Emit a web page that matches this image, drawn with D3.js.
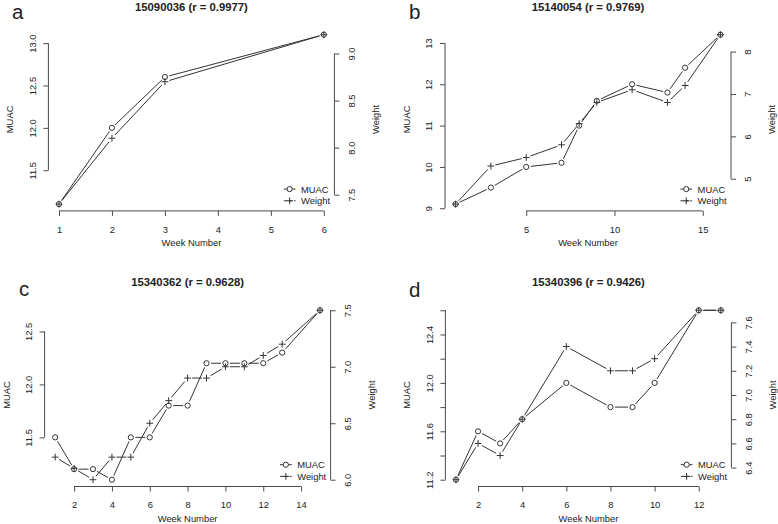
<!DOCTYPE html>
<html><head><meta charset="utf-8">
<script src="https://cdn.jsdelivr.net/npm/d3@7"></script>
<style>
html,body{margin:0;padding:0;background:#fff;}
svg{display:block;font-family:"Liberation Sans",Arial,Helvetica,sans-serif;}
</style></head>
<body><svg id="chart" width="778" height="524"></svg>
<script>
// ---- data ----
const panelLetters = ["a", "b", "c", "d"];
const panelTitles = ["15090036 (r = 0.9977)", "15140054 (r = 0.9769)", "15340362 (r = 0.9628)", "15340396 (r = 0.9426)"];
const seriesNames = ["MUAC", "Weight"];

const weeksA = [1, 2, 3, 6];
const muacA = [11.1, 12.0, 12.6, 13.1];
const weightA = [7.4, 8.1, 8.7, 9.2];

const weeksB = [1, 3, 5, 7, 8, 9, 11, 13, 14, 16];
const muacB = [9.1, 9.5, 10.0, 10.1, 11.0, 11.6, 12.0, 11.8, 12.4, 13.2];
const weightB = [4.4, 5.3, 5.5, 5.8, 6.3, 6.8, 7.1, 6.8, 7.2, 8.4];

const weeksC = [1, 2, 3, 4, 5, 6, 7, 8, 9, 10, 11, 12, 13, 15];
const muacC = [11.5, 11.2, 11.2, 11.1, 11.5, 11.5, 11.8, 11.8, 12.2, 12.2, 12.2, 12.2, 12.3, 12.7];
const weightC = [6.2, 6.1, 6.0, 6.2, 6.2, 6.5, 6.7, 6.9, 6.9, 7.0, 7.0, 7.1, 7.2, 7.5];

const weeksD = [1, 2, 3, 4, 6, 8, 9, 10, 12, 13];
const muacD = [11.2, 11.6, 11.5, 11.7, 12.0, 11.8, 11.8, 12.0, 12.6, 12.6];
const weightD = [6.3, 6.6, 6.5, 6.8, 7.4, 7.2, 7.2, 7.3, 7.7, 7.7];

// ---- tick values and labels ----
const xTicksA = [1, 2, 3, 4, 5, 6];
const muacTicksA = [11.5, 12.0, 12.5, 13.0];
const muacLabelsA = ["11.5", "12.0", "12.5", "13.0"];
const weightTicksA = [7.5, 8.0, 8.5, 9.0];
const weightLabelsA = ["7.5", "8.0", "8.5", "9.0"];

const xTicksB = [5, 10, 15];
const muacTicksB = [9, 10, 11, 12, 13];
const muacLabelsB = ["9", "10", "11", "12", "13"];
const weightTicksB = [5, 6, 7, 8];
const weightLabelsB = ["5", "6", "7", "8"];

const xTicksC = [2, 4, 6, 8, 10, 12, 14];
const muacTicksC = [11.5, 12.0, 12.5];
const muacLabelsC = ["11.5", "12.0", "12.5"];
const weightTicksC = [6.0, 6.5, 7.0, 7.5];
const weightLabelsC = ["6.0", "6.5", "7.0", "7.5"];

const xTicksD = [2, 4, 6, 8, 10, 12];
const muacTicksD = [11.2, 11.4, 11.6, 11.8, 12.0, 12.2, 12.4, 12.6];
const muacLabelsD = ["11.2", "", "11.6", "", "12.0", "", "12.4", ""];
const weightTicksD = [6.4, 6.6, 6.8, 7.0, 7.2, 7.4, 7.6];
const weightLabelsD = ["6.4", "6.6", "6.8", "7.0", "7.2", "7.4", "7.6"];

// ---- layout ----
const PW = 286, PH = 183;
const panels = [
  {weeks: weeksA, muac: muacA, weight: weightA, xt: xTicksA, mt: muacTicksA, ml: muacLabelsA, wt: weightTicksA, wl: weightLabelsA, left: 48.4, top: 27.9, lx: 12, ly: 19},
  {weeks: weeksB, muac: muacB, weight: weightB, xt: xTicksB, mt: muacTicksB, ml: muacLabelsB, wt: weightTicksB, wl: weightLabelsB, left: 445, top: 27.9, lx: 409, ly: 19},
  {weeks: weeksC, muac: muacC, weight: weightC, xt: xTicksC, mt: muacTicksC, ml: muacLabelsC, wt: weightTicksC, wl: weightLabelsC, left: 44.6, top: 303.5, lx: 19, ly: 296},
  {weeks: weeksD, muac: muacD, weight: weightD, xt: xTicksD, mt: muacTicksD, ml: muacLabelsD, wt: weightTicksD, wl: weightLabelsD, left: 445.4, top: 303.5, lx: 409, ly: 297}
];

const FS = 9.4;
const LINE = "#333", AXIS = "#4a4a4a", TEXT = "#222";
const GAP = 4.5, CR = 2.6, PL = 3.4;

const svg = d3.select("#chart");
svg.append("rect").attr("width", 778).attr("height", 524).attr("fill", "#fff");

function ext(arr) {
  const [a, b] = d3.extent(arr);
  const e = (b - a) * 0.04;
  return [a - e, b + e];
}

function plusPath(x, y) {
  return `M${x - PL},${y}H${x + PL}M${x},${y - PL}V${y + PL}`;
}

panels.forEach((p, i) => {
  const g = svg.append("g").attr("transform", `translate(${p.left},${p.top})`);
  const x = d3.scaleLinear().domain(ext(p.weeks)).range([0, PW]);
  const yM = d3.scaleLinear().domain(ext(p.muac)).range([PH, 0]);
  const yW = d3.scaleLinear().domain(ext(p.weight)).range([PH, 0]);

  // letter + title
  svg.append("text").attr("x", p.lx).attr("y", p.ly).attr("font-size", 20.5).attr("fill", TEXT).text(panelLetters[i]);
  g.append("text").attr("x", PW / 2).attr("y", -17.2).attr("text-anchor", "middle")
    .attr("font-size", 11.3).attr("font-weight", "bold").attr("fill", TEXT).text(panelTitles[i]);

  // bottom axis
  const xa = g.append("g").attr("transform", `translate(0,${PH})`)
    .call(d3.axisBottom(x).tickValues(p.xt).tickSize(5).tickPadding(10.3).tickFormat(d3.format("d")));
  xa.select(".domain").attr("d", `M${x(p.xt[0])},0H${x(p.xt[p.xt.length - 1])}`);

  // left axis
  const la = g.append("g")
    .call(d3.axisLeft(yM).tickValues(p.mt).tickSize(5).tickFormat((d, k) => p.ml[k]));
  la.select(".domain").attr("d", `M0,${yM(p.mt[0])}V${yM(p.mt[p.mt.length - 1])}`);
  la.selectAll(".tick text").attr("x", null).attr("dy", null).attr("text-anchor", "middle")
    .attr("transform", "translate(-12.7,0) rotate(-90)");

  // right axis
  const ra = g.append("g").attr("transform", `translate(${PW},0)`)
    .call(d3.axisRight(yW).tickValues(p.wt).tickSize(5).tickFormat((d, k) => p.wl[k]));
  ra.select(".domain").attr("d", `M0,${yW(p.wt[0])}V${yW(p.wt[p.wt.length - 1])}`);
  ra.selectAll(".tick text").attr("x", null).attr("dy", null).attr("text-anchor", "middle")
    .attr("transform", "translate(20.3,0) rotate(-90)");

  [xa, la, ra].forEach(a => {
    a.attr("font-size", FS).attr("font-family", null);
    a.selectAll(".domain, .tick line").attr("stroke", AXIS);
    a.selectAll(".tick text").attr("fill", TEXT);
  });

  // axis titles
  g.append("text").attr("x", PW / 2).attr("y", PH + 35).attr("text-anchor", "middle")
    .attr("font-size", FS).attr("fill", TEXT).text("Week Number");
  g.append("text").attr("transform", `translate(-35,${PH / 2}) rotate(-90)`).attr("text-anchor", "middle")
    .attr("font-size", FS).attr("fill", TEXT).text("MUAC");
  g.append("text").attr("transform", `translate(${PW + 44.3},${PH / 2}) rotate(-90)`).attr("text-anchor", "middle")
    .attr("font-size", FS).attr("fill", TEXT).text("Weight");

  // series: type "b" (lines with gaps around points)
  function drawSeries(vals, yScale, shape) {
    const pts = p.weeks.map((w, k) => [x(w), yScale(vals[k])]);
    const segs = [];
    for (let k = 0; k < pts.length - 1; k++) {
      const [x0, y0] = pts[k], [x1, y1] = pts[k + 1];
      const dx = x1 - x0, dy = y1 - y0, d = Math.hypot(dx, dy);
      if (d > 2 * GAP) {
        const ux = dx / d, uy = dy / d;
        segs.push([x0 + ux * GAP, y0 + uy * GAP, x1 - ux * GAP, y1 - uy * GAP]);
      }
    }
    g.append("g").selectAll("line").data(segs).join("line")
      .attr("x1", s => s[0]).attr("y1", s => s[1]).attr("x2", s => s[2]).attr("y2", s => s[3])
      .attr("stroke", LINE).attr("stroke-width", 1);
    if (shape === "circle") {
      g.append("g").selectAll("circle").data(pts).join("circle")
        .attr("cx", d => d[0]).attr("cy", d => d[1]).attr("r", CR)
        .attr("fill", "none").attr("stroke", LINE).attr("stroke-width", 1);
    } else {
      g.append("g").selectAll("path").data(pts).join("path")
        .attr("d", d => plusPath(d[0], d[1]))
        .attr("fill", "none").attr("stroke", LINE).attr("stroke-width", 1);
    }
  }
  drawSeries(p.muac, yM, "circle");
  drawSeries(p.weight, yW, "plus");

  // legend (bottom right)
  const lg = g.append("g").attr("transform", `translate(${PW},${PH})`);
  seriesNames.forEach((name, k) => {
    const cy = k === 0 ? -21.8 : -10.1;
    const x0 = -50.6, x1 = -38.9, xm = (x0 + x1) / 2;
    lg.append("line").attr("x1", x0).attr("x2", x1).attr("y1", cy).attr("y2", cy)
      .attr("stroke", LINE).attr("stroke-width", 1)
      .attr("stroke-dasharray", k === 0 ? null : "3,2");
    if (k === 0) {
      lg.append("circle").attr("cx", xm).attr("cy", cy).attr("r", CR).attr("fill", "#fff").attr("stroke", LINE);
    } else {
      lg.append("path").attr("d", plusPath(xm, cy)).attr("stroke", LINE).attr("fill", "none");
    }
    lg.append("text").attr("x", -33.4).attr("y", cy + 3.4).attr("font-size", FS).attr("fill", TEXT).text(name);
  });
});
</script>
</body></html>
